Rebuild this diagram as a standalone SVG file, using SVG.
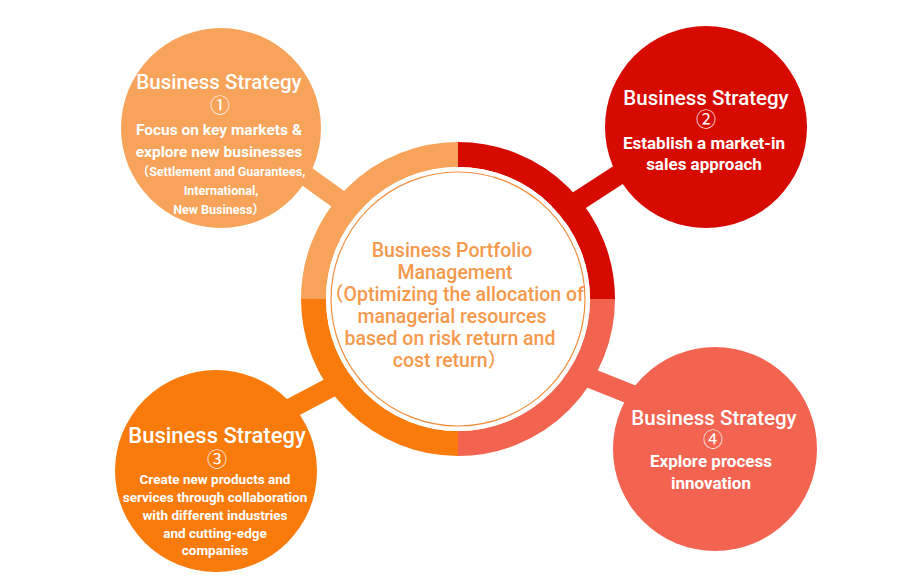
<svg xmlns="http://www.w3.org/2000/svg" width="910" height="586" viewBox="0 0 910 586">
<style>
text{font-family:Roboto,"Noto Sans CJK JP",sans-serif;text-anchor:middle}
.w{fill:#fff}
.t{font-size:20.5px;font-weight:500}
.num{font-size:20px;font-family:"Noto Sans CJK JP",sans-serif}
.b{font-weight:bold}
.c{fill:#F5994C;font-size:19.5px;font-weight:500}
.conn{fill:none;stroke-width:20}
.ring{fill:none;stroke-width:25}
</style>
<rect width="910" height="586" fill="#fff"/>
<g id="connectors">
<line class="conn" x1="221" y1="115" x2="458" y2="285" stroke="#F8A35A"/>
<line class="conn" x1="706" y1="118" x2="458" y2="279" stroke="#D70A00"/>
<line class="conn" x1="216" y1="448" x2="458" y2="320" stroke="#F87B0C"/>
<line class="conn" x1="700" y1="422" x2="540" y2="358" stroke="#F26350"/>
</g>
<g id="center">
<path class="ring" stroke="#F8A35A" d="M313.5 299A144.5 144.5 0 0 1 458 154.5"/>
<path class="ring" stroke="#D70A00" d="M458 154.5A144.5 144.5 0 0 1 602.5 299"/>
<path class="ring" stroke="#F26350" d="M602.5 299A144.5 144.5 0 0 1 458 443.5"/>
<path class="ring" stroke="#F87B0C" d="M458 443.5A144.5 144.5 0 0 1 313.5 299"/>
<circle cx="458" cy="299" r="132" fill="#fff"/>
<circle cx="458" cy="299" r="127" fill="none" stroke="#F08E3E" stroke-width="1.2"/>
<text class="c" x="452" y="257">Business Portfolio</text>
<text class="c" x="455" y="279">Management</text>
<text class="c" x="454" y="301">（Optimizing the allocation of</text>
<text class="c" x="452" y="323">managerial resources</text>
<text class="c" x="450" y="345">based on risk return and</text>
<text class="c" x="450" y="367">cost return）</text>
</g>
<g id="node1">
<circle cx="221" cy="128" r="100" fill="#F8A35A"/>
<text class="w t" x="219" y="89">Business Strategy</text>
<text class="w num" x="220" y="113">①</text>
<text class="w b" style="font-size:15.5px" x="219" y="135">Focus on key markets &amp;</text>
<text class="w b" style="font-size:15.5px" x="219" y="157">explore new businesses</text>
<text class="w b" style="font-size:12.5px" x="221" y="176">（Settlement and Guarantees,</text>
<text class="w b" style="font-size:12.5px" x="221" y="195">International,</text>
<text class="w b" style="font-size:12.5px" x="219" y="214">New Business）</text>
</g>
<g id="node2">
<circle cx="706" cy="127" r="101" fill="#D70A00"/>
<text class="w t" x="706" y="105">Business Strategy</text>
<text class="w num" x="706" y="127">②</text>
<text class="w b" style="font-size:17px" x="704" y="149">Establish a market-in</text>
<text class="w b" style="font-size:17px" x="704" y="170">sales approach</text>
</g>
<g id="node3">
<circle cx="216" cy="471" r="101" fill="#F87B0C"/>
<text class="w t" style="font-size:22px" x="217" y="443">Business Strategy</text>
<text class="w num" x="217" y="467">③</text>
<text class="w b" style="font-size:13.5px" x="215" y="484">Create new products and</text>
<text class="w b" style="font-size:13.5px" x="215" y="502">services through collaboration</text>
<text class="w b" style="font-size:13.5px" x="215" y="520">with different industries</text>
<text class="w b" style="font-size:13.5px" x="215" y="538">and cutting-edge</text>
<text class="w b" style="font-size:13.5px" x="215" y="555">companies</text>
</g>
<g id="node4">
<circle cx="715" cy="449" r="102" fill="#F26350"/>
<text class="w t" x="714" y="425">Business Strategy</text>
<text class="w num" x="713" y="447">④</text>
<text class="w b" style="font-size:17px" x="711" y="467">Explore process</text>
<text class="w b" style="font-size:17px" x="711" y="489">innovation</text>
</g>
</svg>
